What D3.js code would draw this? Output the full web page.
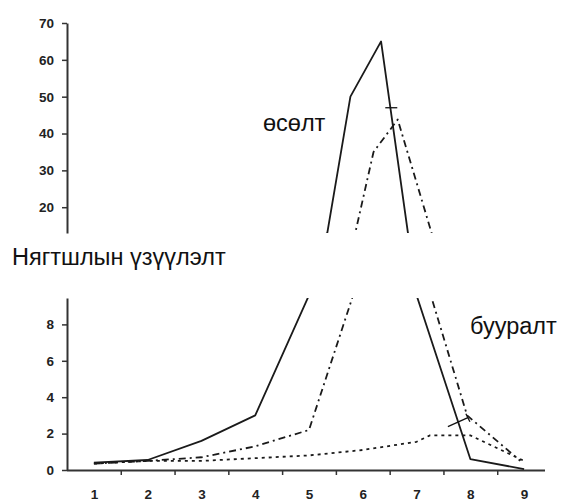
<!DOCTYPE html>
<html>
<head>
<meta charset="utf-8">
<script src="https://cdn.jsdelivr.net/npm/d3@7"></script>
<style>
  html, body { margin: 0; padding: 0; background: #fff; }
  svg { display: block; }
</style>
</head>
<body>
<svg id="chart" width="563" height="502"></svg>
<script>
// ---- data ----
const categories = [1, 2, 3, 4, 5, 6, 7, 8, 9];
const topTicks = [20, 30, 40, 50, 60, 70];
const bottomTicks = [0, 2, 4, 6, 8];
// [x position in category units, value]
const solidSeries = [[1, 0.4], [2, 0.55], [3, 1.6], [4, 3.0], [5, 9.6], [5.34, 13], [5.77, 50], [6.34, 65], [6.84, 13], [7.0, 9.6], [8, 0.6], [9, 0.05]];
const dashDotSeries = [[1, 0.35], [2, 0.5], [3, 0.7], [4, 1.3], [5, 2.2], [5.82, 9.6], [5.86, 13], [6.2, 35], [6.65, 43.8], [7.28, 13], [7.28, 9.45], [7.94, 3.0], [8.93, 0.5]];
const dottedSeries = [[1, 0.35], [2, 0.5], [3, 0.5], [4, 0.65], [5, 0.8], [6, 1.1], [7, 1.55], [7.25, 1.9], [8, 1.9], [9, 0.5]];
const labelTexts = ["өсөлт", "Нягтшлын үзүүлэлт", "бууралт"];

// ---- layout ----
const svg = d3.select("#chart");
const x = d3.scaleLinear().domain([0.5, 9.5]).range([67, 551]);
const yTop = d3.scaleLinear().domain([13, 70]).range([233, 23]);
const yBot = d3.scaleLinear().domain([0, 9.45]).range([470, 298]);

const defs = svg.append("defs");
defs.append("clipPath").attr("id", "clipTop").append("rect")
  .attr("x", 67).attr("y", 0).attr("width", 500).attr("height", 233);
defs.append("clipPath").attr("id", "clipBot").append("rect")
  .attr("x", 67).attr("y", 298).attr("width", 500).attr("height", 172);

const font = "'Liberation Sans', Arial, sans-serif";
const axisColor = "#333";

// Top y axis
const gTop = svg.append("g").attr("transform", "translate(67,0)")
  .call(d3.axisLeft(yTop).tickValues(topTicks).tickSize(5).tickSizeOuter(0).tickPadding(8));
// Bottom y axis
const gBot = svg.append("g").attr("transform", "translate(67,0)")
  .call(d3.axisLeft(yBot).tickValues(bottomTicks).tickSize(5).tickSizeOuter(0).tickPadding(8));
// X axis ticks (between categories)
const gX = svg.append("g").attr("transform", "translate(0,470)")
  .call(d3.axisBottom(x).tickValues(d3.range(1.5, 9, 1)).tickSize(5).tickSizeOuter(0).tickFormat(""));
gX.select(".domain").attr("d", `M67,0.5H545`);
// X axis labels at category centres
const gXL = svg.append("g").attr("transform", "translate(0,470)")
  .call(d3.axisBottom(x).tickValues(categories).tickSize(0).tickPadding(19).tickFormat(d3.format("d")));
gXL.select(".domain").remove();

[gTop, gBot, gX, gXL].forEach(g => {
  g.selectAll(".domain").attr("stroke", axisColor).attr("stroke-width", 2);
  g.selectAll(".tick line").attr("stroke", axisColor).attr("stroke-width", 1.5);
  g.selectAll("text").attr("font-family", font).attr("font-size", 13.5).attr("fill", "#222")
    .attr("font-weight", "bold");
});

// ---- lines ----
function drawSeries(data, dash, width) {
  [["clipTop", yTop], ["clipBot", yBot]].forEach(([clip, ys]) => {
    const line = d3.line().x(d => x(d[0])).y(d => ys(d[1]));
    svg.append("path")
      .attr("clip-path", `url(#${clip})`)
      .attr("d", line(data))
      .attr("fill", "none")
      .attr("stroke", "#1a1a1a")
      .attr("stroke-width", width)
      .attr("stroke-dasharray", dash)
      .attr("stroke-linejoin", "round");
  });
}
drawSeries(dottedSeries, "3,4", 1.8);
drawSeries(dashDotSeries, "7,4,2,4", 1.8);
drawSeries(solidSeries, null, 1.8);

// small cross marks
const crossTop = [[6.53, 47]];
crossTop.forEach(c => {
  svg.append("line")
    .attr("x1", x(c[0]) - 6).attr("x2", x(c[0]) + 6)
    .attr("y1", yTop(c[1])).attr("y2", yTop(c[1]))
    .attr("stroke", "#111").attr("stroke-width", 1.3);
});
const crossBot = [[7.75, 2.6]];
crossBot.forEach(c => {
  svg.append("line")
    .attr("x1", x(c[0]) - 9).attr("x2", x(c[0]) + 11)
    .attr("y1", yBot(c[1]) + 4).attr("y2", yBot(c[1]) - 5)
    .attr("stroke", "#111").attr("stroke-width", 1.3);
  svg.append("line")
    .attr("x1", x(c[0]) + 9).attr("x2", x(c[0]) + 13)
    .attr("y1", yBot(c[1]) - 9).attr("y2", yBot(c[1]) - 1)
    .attr("stroke", "#111").attr("stroke-width", 1.3);
});

// ---- text labels ----
svg.append("text").text(labelTexts[0])
  .attr("x", 263).attr("y", 131)
  .attr("font-family", font).attr("font-size", 23.5).attr("fill", "#111");
svg.append("text").text(labelTexts[1])
  .attr("x", 12).attr("y", 265)
  .attr("font-family", font).attr("font-size", 23.5).attr("fill", "#111");
svg.append("text").text(labelTexts[2])
  .attr("x", 470).attr("y", 334)
  .attr("font-family", font).attr("font-size", 23.5).attr("fill", "#111");
</script>
</body>
</html>
